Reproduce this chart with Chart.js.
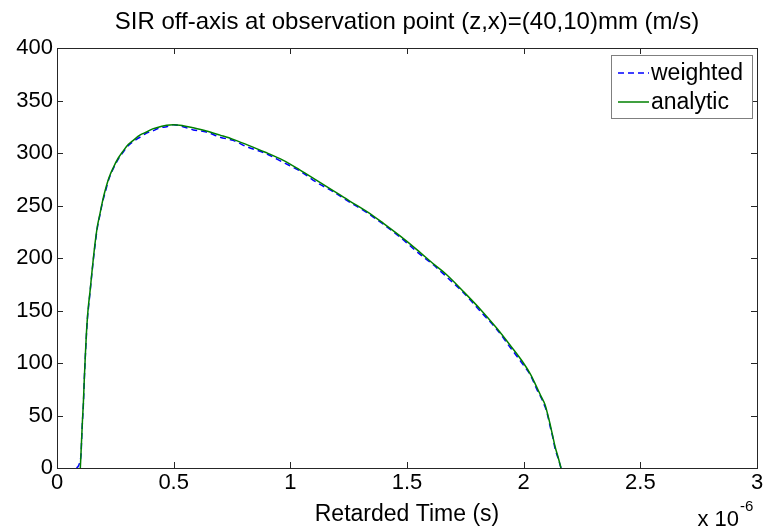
<!DOCTYPE html>
<html>
<head>
<meta charset="utf-8">
<script src="https://cdn.jsdelivr.net/npm/chart.js@4.4.1/dist/chart.umd.min.js"></script>
<style>
  html, body { margin: 0; padding: 0; background: #fff; }
  #wrap { width: 766px; height: 532px; position: relative; }
</style>
</head>
<body>
<div id="wrap"><canvas id="sirChart"></canvas></div>
<script>
// --- DATOS (tiempo en microsegundos, valores en m/s) ---
const analyticTime = [0.100, 0.103, 0.106, 0.109, 0.113, 0.117, 0.121, 0.126, 0.131, 0.135,
  0.141, 0.149, 0.156, 0.163, 0.173, 0.184, 0.195, 0.206, 0.222, 0.241,
  0.262, 0.284, 0.305, 0.327, 0.355, 0.384, 0.410, 0.441, 0.470, 0.499,
  0.540, 0.584, 0.640, 0.699, 0.755, 0.813, 0.890, 0.970, 1.040, 1.113,
  1.185, 1.256, 1.330, 1.399, 1.470, 1.542, 1.610, 1.670, 1.742, 1.815,
  1.885, 1.945, 1.999, 2.030, 2.056, 2.075, 2.092, 2.103, 2.113, 2.124,
  2.135, 2.148, 2.160];
const analyticVals = [0, 15, 30, 45, 62, 85, 105, 128, 145, 155,
  167, 185, 200, 214, 230, 242, 254, 264, 276, 286,
  295, 302, 308, 312, 317, 320, 323, 325, 326.5, 327,
  326, 324, 321, 317, 313, 308, 301, 293, 284, 274,
  264, 254, 244, 233, 221, 208, 195, 184, 168, 151,
  133, 116, 100, 89, 77, 68, 60, 51, 42, 31,
  20, 10, 0];

const weightedTime = [0.084, 0.092, 0.098, 0.103, 0.106, 0.109, 0.113, 0.117, 0.121, 0.126,
  0.131, 0.135, 0.141, 0.149, 0.156, 0.163, 0.173, 0.184, 0.195, 0.206,
  0.222, 0.241, 0.262, 0.284, 0.305, 0.327, 0.355, 0.384, 0.410, 0.441,
  0.470, 0.499, 0.540, 0.584, 0.640, 0.699, 0.755, 0.813, 0.890, 0.970,
  1.040, 1.113, 1.185, 1.256, 1.330, 1.399, 1.470, 1.542, 1.610, 1.670,
  1.742, 1.815, 1.885, 1.945, 1.999, 2.030, 2.056, 2.075, 2.092, 2.103,
  2.113, 2.124, 2.135, 2.148, 2.160];
const weightedVals = [0, 2, 6, 13, 29, 44, 60, 84, 104, 126,
  144, 153, 166, 184, 199, 212, 229, 241, 253, 262,
  275, 285, 294, 301, 307, 311, 315, 319, 321, 324,
  325, 327, 325, 322, 320, 315, 312, 306, 300, 291,
  283, 272, 263, 253, 243, 232, 220, 206, 194, 182,
  167, 149, 132, 114, 98, 88, 75, 67, 58, 50,
  40, 30, 18, 9, 0];

const xTicks = [0, 0.5, 1, 1.5, 2, 2.5, 3];
const yTicks = [0, 50, 100, 150, 200, 250, 300, 350, 400];
const seriesLabels = ['weighted', 'analytic'];

const FONT = "'Liberation Sans', Arial, sans-serif";
const AXIS_COLOR = '#262626';

const toPoints = (xs, ys) => xs.map((x, i) => ({ x: x, y: ys[i] }));

// Caja estilo MATLAB: bordes superior/derecho, marcas hacia dentro, leyenda y multiplicador
const matlabBox = {
  id: 'matlabBox',
  afterDraw(chart) {
    const { ctx, chartArea: a, scales } = chart;
    ctx.save();
    ctx.strokeStyle = AXIS_COLOR;
    ctx.lineWidth = 1;
    ctx.strokeRect(a.left + 0.5, a.top + 0.5, a.right - a.left, a.bottom - a.top);
    const tl = 6;
    ctx.beginPath();
    xTicks.forEach(v => {
      const px = Math.round(scales.x.getPixelForValue(v)) + 0.5;
      ctx.moveTo(px, a.bottom); ctx.lineTo(px, a.bottom - tl);
      ctx.moveTo(px, a.top); ctx.lineTo(px, a.top + tl);
    });
    yTicks.forEach(v => {
      const py = Math.round(scales.y.getPixelForValue(v)) + 0.5;
      ctx.moveTo(a.left, py); ctx.lineTo(a.left + tl, py);
      ctx.moveTo(a.right, py); ctx.lineTo(a.right - tl, py);
    });
    ctx.stroke();

    // leyenda
    const lx = 611, ly = 55, lw = 141, lh = 63;
    ctx.fillStyle = '#fff';
    ctx.fillRect(lx, ly, lw, lh);
    ctx.strokeStyle = '#7f7f7f';
    ctx.strokeRect(lx + 0.5, ly + 0.5, lw, lh);
    const rows = [73, 102];
    chart.data.datasets.forEach((ds, i) => {
      ctx.strokeStyle = ds.borderColor;
      ctx.lineWidth = ds.borderWidth;
      ctx.setLineDash(ds.borderDash || []);
      ctx.beginPath();
      ctx.moveTo(618, rows[i]); ctx.lineTo(649, rows[i]);
      ctx.stroke();
      ctx.setLineDash([]);
      ctx.fillStyle = '#000';
      ctx.font = '23px ' + FONT;
      ctx.textBaseline = 'middle';
      ctx.textAlign = 'left';
      ctx.fillText(ds.label, 651, rows[i] + 1);
    });

    // multiplicador del eje x
    ctx.fillStyle = '#000';
    ctx.textBaseline = 'alphabetic';
    ctx.textAlign = 'right';
    ctx.font = '22px ' + FONT;
    ctx.fillText('x 10', 739, 526);
    ctx.textAlign = 'left';
    ctx.font = '15px ' + FONT;
    ctx.fillText('-6', 740, 511);
    ctx.restore();
  }
};

new Chart(document.getElementById('sirChart'), {
  type: 'line',
  data: {
    datasets: [
      {
        label: seriesLabels[0],
        data: toPoints(weightedTime, weightedVals),
        borderColor: '#0000ff',
        borderWidth: 1.5,
        borderDash: [6, 4],
        pointRadius: 0,
        fill: false,
        cubicInterpolationMode: 'monotone',
        order: 2
      },
      {
        label: seriesLabels[1],
        data: toPoints(analyticTime, analyticVals),
        borderColor: '#008000',
        borderWidth: 1.5,
        pointRadius: 0,
        fill: false,
        cubicInterpolationMode: 'monotone',
        order: 1
      }
    ]
  },
  options: {
    responsive: true,
    maintainAspectRatio: false,
    animation: false,
    layout: { padding: { left: 0, right: 9, top: 0, bottom: 0 } },
    plugins: {
      legend: { display: false },
      tooltip: { enabled: false },
      title: {
        display: true,
        fullSize: false,
        text: 'SIR off-axis at observation point (z,x)=(40,10)mm (m/s)',
        color: '#000',
        font: { family: FONT, size: 24, weight: 'normal' },
        padding: { top: 8, bottom: 11.2 }
      }
    },
    scales: {
      x: {
        type: 'linear',
        min: 0, max: 3,
        afterBuildTicks: s => { s.ticks = xTicks.map(v => ({ value: v })); },
        afterFit: s => { s.height = 64; },
        grid: { display: false, drawTicks: false },
        border: { display: true, color: AXIS_COLOR },
        ticks: {
          color: '#000', font: { family: FONT, size: 22 }, padding: 2, maxRotation: 0,
          callback: v => String(v)
        },
        title: {
          display: true,
          text: 'Retarded Time (s)',
          color: '#000',
          font: { family: FONT, size: 23 },
          padding: { top: 0, bottom: 4 }
        }
      },
      y: {
        min: 0, max: 400,
        afterBuildTicks: s => { s.ticks = yTicks.map(v => ({ value: v })); },
        afterFit: s => { s.width = 57; },
        grid: { display: false, drawTicks: false },
        border: { display: true, color: AXIS_COLOR },
        ticks: { color: '#000', font: { family: FONT, size: 22 }, padding: 4 }
      }
    }
  },
  plugins: [matlabBox]
});
</script>
</body>
</html>
